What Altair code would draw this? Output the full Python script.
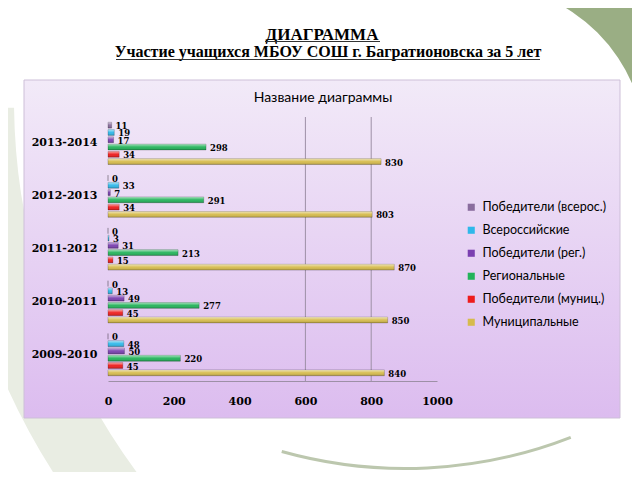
import altair as alt
import pandas as pd

# учебные годы (сверху вниз) и серии (порядок в группе сверху вниз = порядок легенды)
years = ["2013-2014", "2012-2013", "2011-2012", "2010-2011", "2009-2010"]
series = [
    "Победители (всерос.)",
    "Всероссийские",
    "Победители (рег.)",
    "Региональные",
    "Победители (муниц.)",
    "Муниципальные",
]
pobediteli_vseros = [11, 0, 0, 0, 0]
vserossiyskie = [19, 33, 3, 13, 48]
pobediteli_reg = [17, 7, 31, 49, 50]
regionalnye = [298, 291, 213, 277, 220]
pobediteli_munic = [34, 34, 15, 45, 45]
municipalnye = [830, 803, 870, 850, 840]
colors = ["#8a6d9e", "#2fb8ea", "#7a3fb0", "#23b35a", "#ee1c1c", "#d6bb4c"]
x_ticks = [0, 200, 400, 600, 800, 1000]
gridlines = [600, 800]

values = [pobediteli_vseros, vserossiyskie, pobediteli_reg,
          regionalnye, pobediteli_munic, municipalnye]
rows = []
for s, vals in zip(series, values):
    for y, v in zip(years, vals):
        rows.append({"year": y, "series": s, "value": v})
df = pd.DataFrame(rows)
one = pd.DataFrame({"k": [0]})

SERIF = "DejaVu Serif"

# оформление слайда: зелёный уголок и светлые дуги внизу
corner = alt.Chart(one).mark_arc(
    color="#9aae84", innerRadius=166, outerRadius=420, theta=0, theta2=1.5708
).encode(x=alt.value(372), y=alt.value(33))
band = alt.Chart(one).mark_arc(
    color="#e9ede3", innerRadius=626, outerRadius=695, theta=3.6, theta2=4.7
).encode(x=alt.value(532), y=alt.value(-17))
swoosh = alt.Chart(one).mark_arc(
    color="#bcc7ae", innerRadius=455, outerRadius=458, theta=2.77, theta2=3.415
).encode(x=alt.value(297), y=alt.value(-105))

# сиреневая подложка диаграммы
panel = alt.Chart(one).mark_rect(
    fill=alt.LinearGradient(
        gradient="linear", x1=0, y1=0, x2=0, y2=1,
        stops=[alt.GradientStop(color="#f2eaf8", offset=0),
               alt.GradientStop(color="#dcbcef", offset=1)],
    ),
    stroke="#cdbfd8", strokeWidth=1,
).encode(x=alt.value(-84), x2=alt.value(512), y=alt.value(-37), y2=alt.value(301))

grid = alt.Chart(pd.DataFrame({"g": gridlines})).mark_rule(
    color="#9d90a6", strokeWidth=1
).encode(x=alt.X("g:Q"))

base = alt.Chart(df).encode(
    y=alt.Y("year:N", sort=years, title=None,
            scale=alt.Scale(paddingInner=0.2, paddingOuter=0.1),
            axis=alt.Axis(domain=False, ticks=False, labelFont=SERIF,
                          labelFontWeight="bold", labelFontSize=11,
                          labelColor="black", labelPadding=11, zindex=1)),
    yOffset=alt.YOffset("series:N", sort=series,
                        scale=alt.Scale(paddingInner=0.2)),
    x=alt.X("value:Q", title=None,
            scale=alt.Scale(domain=[0, 1000], nice=False),
            axis=alt.Axis(values=x_ticks, format="d", grid=False, ticks=False,
                          labelFlush=False, domainColor="#9d90a6",
                          labelFont=SERIF, labelFontWeight="bold",
                          labelFontSize=11, labelColor="black",
                          labelPadding=14, zindex=1)),
)

bars = base.mark_bar(stroke="rgba(0,0,0,0.35)", strokeWidth=0.6).encode(
    color=alt.Color("series:N", sort=series,
                    scale=alt.Scale(domain=series, range=colors),
                    legend=alt.Legend(title=None, orient="none",
                                      legendX=357, legendY=84))
)
shine = base.mark_bar(
    fill=alt.LinearGradient(
        gradient="linear", x1=0, y1=0, x2=0, y2=1,
        stops=[alt.GradientStop(color="rgba(255,255,255,0.6)", offset=0),
               alt.GradientStop(color="rgba(255,255,255,0.05)", offset=0.5),
               alt.GradientStop(color="rgba(0,0,0,0.2)", offset=1)],
    )
)
labels = base.mark_text(
    align="left", baseline="middle", dx=4, dy=1, font=SERIF,
    fontWeight="bold", fontSize=8.5, color="black"
).encode(text="value:Q")

title1 = alt.Chart(one).mark_text(
    font="Liberation Serif", fontWeight="bold", fontSize=17,
    align="center", baseline="alphabetic", color="black"
).encode(x=alt.value(214), y=alt.value(-77), text=alt.value("ДИАГРАММА"))
title2 = alt.Chart(one).mark_text(
    font="Liberation Serif", fontWeight="bold", fontSize=16,
    align="center", baseline="alphabetic", color="black"
).encode(x=alt.value(220), y=alt.value(-60),
         text=alt.value("Участие учащихся МБОУ СОШ г. Багратионовска за 5 лет"))
under1 = alt.Chart(one).mark_rule(color="#333333", strokeWidth=1).encode(
    x=alt.value(157), x2=alt.value(272), y=alt.value(-75.5))
under2 = alt.Chart(one).mark_rule(color="#333333", strokeWidth=1).encode(
    x=alt.value(8), x2=alt.value(432), y=alt.value(-57.5))
inner_title = alt.Chart(one).mark_text(
    font="Lato", fontSize=14, align="center", baseline="alphabetic",
    color="black"
).encode(x=alt.value(215), y=alt.value(-15.5), text=alt.value("Название диаграммы"))

chart = alt.layer(
    band, swoosh, corner, panel, title1, title2, under1, under2, inner_title,
    grid, bars, shine, labels
).properties(
    width=329, height=264,
    autosize=alt.AutoSizeParams(type="none"),
    padding={"left": 100, "top": 109, "right": 195, "bottom": 91},
).configure_view(
    stroke=None
).configure_legend(
    symbolType="square", symbolSize=50, symbolStrokeWidth=0,
    labelFont="Lato", labelFontSize=12.5, labelColor="black",
    rowPadding=10, labelOffset=5, padding=0
)

chart.save("out.html", embed_options={"renderer": "svg", "actions": False})
